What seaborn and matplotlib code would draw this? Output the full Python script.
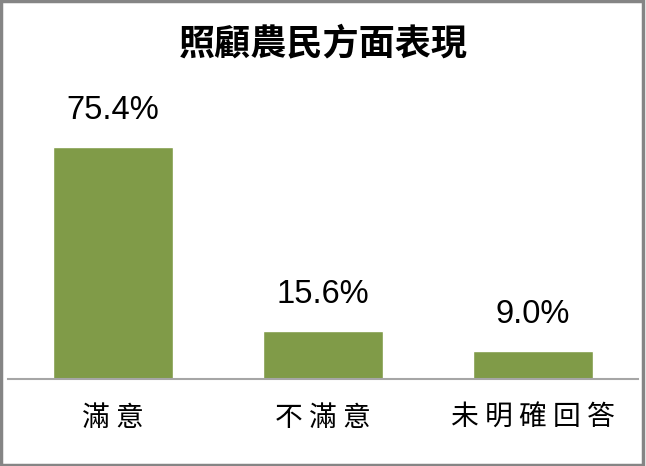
import matplotlib
matplotlib.use("Agg")
import matplotlib.pyplot as plt
import seaborn as sns
import pandas as pd
from matplotlib.patches import Rectangle

# 資料
categories = ["滿意", "不滿意", "未明確回答"]
values = [75.4, 15.6, 9.0]
title = "照顧農民方面表現"

sns.set_theme(style="white")
plt.rcParams['font.family'] = ['Noto Sans CJK TC', 'DejaVu Sans']

df = pd.DataFrame({"cat": categories, "val": values})

W, H = 646, 466
fig = plt.figure(figsize=(W / 100, H / 100), dpi=100)
ax = fig.add_axes([8 / W, (H - 379) / H, 630 / W, 246 / H])

sns.barplot(data=df, x="cat", y="val", color="#809b48", saturation=1,
            width=0.57, ax=ax)

ax.set_xlim(-0.5, len(categories) - 0.5)
ax.set_ylim(0, 80)
ax.set_xlabel("")
ax.set_ylabel("")
ax.set_yticks([])
for s in ["top", "left", "right"]:
    ax.spines[s].set_visible(False)
ax.spines["bottom"].set_color("#a6a6a6")
ax.spines["bottom"].set_linewidth(1.5)
# 字距稍寬，字間加空格
ax.set_xticks(range(len(categories)))
ax.set_xticklabels([" ".join(c) for c in categories])
ax.tick_params(axis="x", length=0, pad=17, labelsize=20)
for lab in ax.get_xticklabels():
    lab.set_color("black")

# 數值標籤
for i, v in enumerate(values):
    ax.text(i, v + 12, f"{v:.1f}%", ha="center", va="center",
            fontsize=23.5, family=["Liberation Sans", "DejaVu Sans"],
            color="black", clip_on=False)

fig.text(0.5, (H - 44) / H, title, ha="center", va="center",
         fontsize=26, fontweight="bold", color="black")

# 外框
fig.patches.append(Rectangle((0.002, 0.003), 0.993, 0.994,
                             transform=fig.transFigure, fill=False,
                             edgecolor="#858585", linewidth=2.5))

fig.savefig("out.png", dpi=100)
